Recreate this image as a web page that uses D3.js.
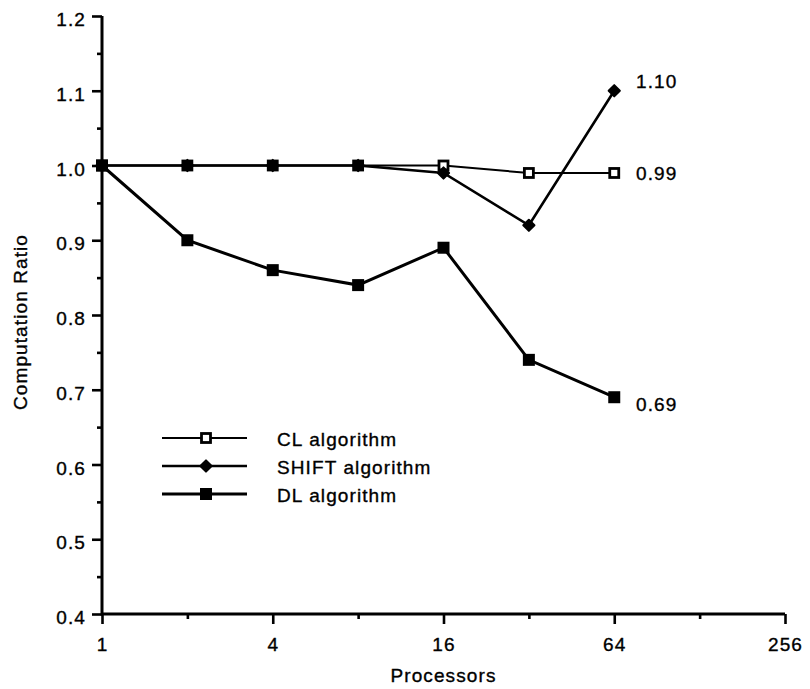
<!DOCTYPE html>
<html>
<head>
<meta charset="utf-8">
<script src="https://cdn.jsdelivr.net/npm/d3@7/dist/d3.min.js"></script>
<style>
  html, body { margin: 0; padding: 0; background: #fff; }
  svg text { font-family: "Liberation Sans", Arial, Helvetica, sans-serif; font-size: 19px; letter-spacing: 1.1px; fill: #000; stroke: #000; stroke-width: 0.35px; }
</style>
</head>
<body>
<svg id="chart" width="810" height="689"></svg>
<script>
// Processor counts (log2 axis) and computation ratio per algorithm
const processors = [1, 2, 4, 8, 16, 32, 64];
const clRatio    = [1.00, 1.00, 1.00, 1.00, 1.00, 0.99, 0.99];
const shiftRatio = [1.00, 1.00, 1.00, 1.00, 0.99, 0.92, 1.10];
const dlRatio    = [1.00, 0.90, 0.86, 0.84, 0.89, 0.74, 0.69];

const xMajorTicks = [1, 4, 16, 64, 256];
const xMinorTicks = [2, 8, 32, 128];
const yMajorTicks = [0.4, 0.5, 0.6, 0.7, 0.8, 0.9, 1.0, 1.1, 1.2];
const yMinorTicks = [0.45, 0.55, 0.65, 0.75, 0.85, 0.95, 1.05, 1.15];

const seriesNames = ["CL algorithm", "SHIFT algorithm", "DL algorithm"];
const endLabels = ["1.10", "0.99", "0.69"];   // final values of SHIFT, CL, DL

const svg = d3.select("#chart");
const x = d3.scaleLog().base(2).domain([1, 256]).range([102, 785]);
const y = d3.scaleLinear().domain([0.4, 1.2]).range([614, 16]);

// ---- axes ----
const axisG = svg.append("g");
const yMajor = axisG.append("g").attr("transform", `translate(${x(1)},0)`)
  .call(d3.axisLeft(y).tickValues(yMajorTicks).tickSize(10).tickPadding(6).tickFormat(d3.format(".1f")));
const yMinor = axisG.append("g").attr("transform", `translate(${x(1)},0)`)
  .call(d3.axisLeft(y).tickValues(yMinorTicks).tickSize(5).tickFormat(""));
const xMajor = axisG.append("g").attr("transform", `translate(0,${y(0.4)})`)
  .call(d3.axisBottom(x).tickValues(xMajorTicks).tickSize(10).tickPadding(14).tickFormat(d3.format("d")));
const xMinor = axisG.append("g").attr("transform", `translate(0,${y(0.4)})`)
  .call(d3.axisBottom(x).tickValues(xMinorTicks).tickSize(5).tickFormat(""));

axisG.selectAll(".domain").remove();
axisG.selectAll(".tick line").attr("stroke", "#000").attr("stroke-width", 2.6);
axisG.selectAll("text").attr("font-family", null).attr("font-size", null);
yMajor.selectAll(".tick text").attr("dy", "0.5em");
xMajor.selectAll(".tick text").attr("dy", "0.71em");

axisG.append("path")
  .attr("d", `M${x(1)},${y(1.2)}V${y(0.4)}H${x(256)}`)
  .attr("fill", "none").attr("stroke", "#000").attr("stroke-width", 3);

// axis titles
svg.append("text").attr("x", x(16)).attr("y", 682).attr("text-anchor", "middle").text("Processors");
svg.append("text").attr("transform", "translate(27,322) rotate(-90)").attr("text-anchor", "middle").text("Computation Ratio");

// ---- series ----
const line = d3.line().x((d, i) => x(processors[i])).y(d => y(d));
const plot = svg.append("g");

function drawMarker(g, kind, cx, cy) {
  if (kind === "open") {
    g.append("rect").attr("x", cx - 4.5).attr("y", cy - 4.5).attr("width", 9).attr("height", 9)
      .attr("fill", "#fff").attr("stroke", "#000").attr("stroke-width", 2.8);
  } else if (kind === "diamond") {
    g.append("path").attr("d", d3.symbol(d3.symbolDiamond2, 80)()).attr("transform", `translate(${cx},${cy})`)
      .attr("fill", "#000").attr("stroke", "#000").attr("stroke-width", 2).attr("stroke-linejoin", "round");
  } else {
    g.append("rect").attr("x", cx - 6).attr("y", cy - 6).attr("width", 12).attr("height", 12).attr("fill", "#000");
  }
}

const series = [
  { values: dlRatio, kind: "square", width: 3 },
  { values: clRatio, kind: "open", width: 2 },
  { values: shiftRatio, kind: "diamond", width: 2.6 }
];
series.forEach(s => {
  plot.append("path").datum(s.values).attr("d", line)
    .attr("fill", "none").attr("stroke", "#000").attr("stroke-width", s.width);
});
series.forEach(s => {
  s.values.forEach((v, i) => drawMarker(plot, s.kind, x(processors[i]), y(v)));
});

// end-value labels
const endValues = [shiftRatio[6], clRatio[6], dlRatio[6]];
const endOffsets = [-10, 0, 7];
endLabels.forEach((t, i) => {
  svg.append("text").attr("x", 636).attr("y", y(endValues[i]) + endOffsets[i]).attr("dy", "0.36em").text(t);
});

// ---- legend ----
const legendKinds = ["open", "diamond", "square"];
const legendWidths = [2, 2.6, 3];
const legendY = [438, 466, 494];
const legend = svg.append("g");
seriesNames.forEach((name, i) => {
  legend.append("line").attr("x1", 162).attr("x2", 247).attr("y1", legendY[i]).attr("y2", legendY[i])
    .attr("stroke", "#000").attr("stroke-width", legendWidths[i]);
  drawMarker(legend, legendKinds[i], 206, legendY[i]);
  legend.append("text").attr("x", 277).attr("y", legendY[i]).attr("dy", "0.4em").text(name);
});
</script>
</body>
</html>
